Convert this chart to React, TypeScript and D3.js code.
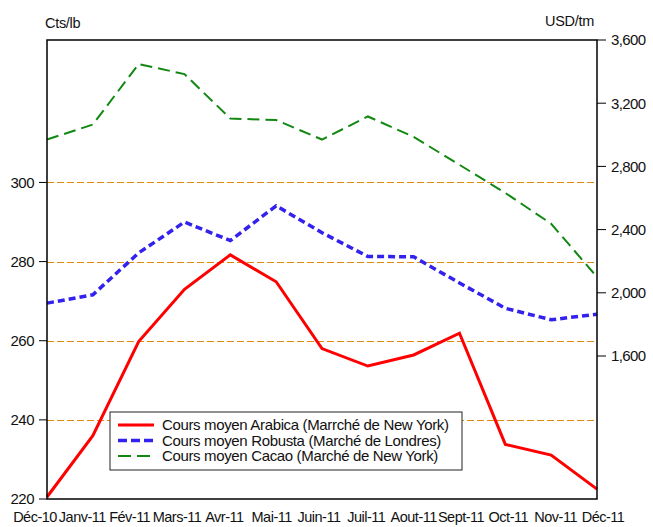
import React from "react";
import * as d3 from "d3";

// monthly average prices, Dec 2010 - Dec 2011
const months = ["Déc-10", "Janv-11", "Fév-11", "Mars-11", "Avr-11", "Mai-11", "Juin-11",
  "Juil-11", "Aout-11", "Sept-11", "Oct-11", "Nov-11", "Déc-11"];
const arabica = [220.5, 236, 259.8, 273, 281.7, 274.9, 258, 253.6, 256.4, 261.9, 233.8, 231.1, 222.5];
const robusta = [269.5, 271.6, 282.2, 290, 285.3, 294.1, 287.3, 281.3, 281.2, 274.6, 268.2, 265.3, 266.7];
const cacao = [2970, 3065, 3448, 3384, 3103, 3093, 2970, 3116, 2987, 2810, 2632, 2437, 2100];
const leftTicks = [220, 240, 260, 280, 300];
const rightTicks = [1600, 2000, 2400, 2800, 3200, 3600];
const gridValues = [240, 260, 280, 300];
const legendLabels = [
  "Cours moyen Arabica (Marrché de New York)",
  "Cours moyen Robusta (Marché de Londres)",
  "Cours moyen Cacao (Marché de New York)",
];

const W = 653, H = 527;
const L = 47, R = 597, T = 40, B = 499;
const font = "Arial, 'Liberation Sans', sans-serif";

export default function App() {
  const x = d3.scalePoint<string>().domain(months).range([L, R]);
  const xLab = d3.scalePoint<string>().domain(months).range([35, 603]);
  const yL = d3.scaleLinear().domain([220, 336]).range([B, T]);
  const yR = d3.scaleLinear().domain([695, 3600]).range([B, T]);
  const fmt = d3.format(",");

  const lineL = d3.line<number>().x((d, i) => x(months[i])!).y(d => yL(d));
  const lineR = d3.line<number>().x((d, i) => x(months[i])!).y(d => yR(d));

  const series = [
    { label: legendLabels[0], d: lineL(arabica), color: "#ff0000", w: 3, dash: "none" },
    { label: legendLabels[1], d: lineL(robusta), color: "#3322ee", w: 3.5, dash: "7,4" },
    { label: legendLabels[2], d: lineR(cacao), color: "#118811", w: 2, dash: "12,6" },
  ];

  return (
    <svg width={W} height={H} style={{ position: "absolute", left: 0, top: 0, background: "#fff" }}
      fontFamily={font}>
      {/* grid */}
      {gridValues.map(v => (
        <line key={v} x1={L} x2={R} y1={Math.round(yL(v)) + 0.5} y2={Math.round(yL(v)) + 0.5}
          stroke="#e08a10" strokeWidth={1} strokeDasharray="7,3" />
      ))}

      {/* series */}
      {series.map(s => (
        <path key={s.label} d={s.d!} fill="none" stroke={s.color} strokeWidth={s.w}
          strokeDasharray={s.dash} strokeLinejoin="miter" />
      ))}

      {/* frame */}
      <rect x={L} y={T} width={R - L} height={B - T} fill="none" stroke="#000" strokeWidth={1.5} />

      {/* left axis */}
      {leftTicks.map(v => (
        <g key={v}>
          <line x1={L - 8} x2={L} y1={yL(v)} y2={yL(v)} stroke="#000" strokeWidth={1} />
          <text x={L - 13} y={yL(v)} dy="0.36em" textAnchor="end" fontSize={15} letterSpacing={-0.5}
            fill="#111">{v}</text>
        </g>
      ))}
      <text x={45} y={28} fontSize={14.5} letterSpacing={-0.3} fill="#111">Cts/lb</text>

      {/* right axis */}
      {rightTicks.map(v => (
        <g key={v}>
          <line x1={R} x2={R + 9} y1={yR(v)} y2={yR(v)} stroke="#000" strokeWidth={1} />
          <text x={R + 14} y={yR(v)} dy="0.36em" fontSize={15} letterSpacing={-0.6}
            fill="#111">{fmt(v)}</text>
        </g>
      ))}
      <text x={594} y={26} textAnchor="end" fontSize={14.5} letterSpacing={-0.3} fill="#111">USD/tm</text>

      {/* x labels */}
      {months.map(m => (
        <text key={m} x={xLab(m)} y={522} textAnchor="middle" fontSize={14.5} letterSpacing={-0.5}
          fill="#111">{m}</text>
      ))}

      {/* legend */}
      <rect x={110} y={412} width={352} height={58} fill="#fff" stroke="#222" strokeWidth={1} />
      {series.map((s, i) => {
        const y = 425 + i * 15.5;
        return (
          <g key={s.label}>
            <line x1={118} x2={154} y1={y} y2={y} stroke={s.color} strokeWidth={s.w}
              strokeDasharray={s.dash === "none" ? "none" : s.dash === "7,4" ? "9,4" : "13,6"} />
            <text x={162} y={y} dy="0.36em" fontSize={15} letterSpacing={-0.35} fill="#111">{s.label}</text>
          </g>
        );
      })}
    </svg>
  );
}
